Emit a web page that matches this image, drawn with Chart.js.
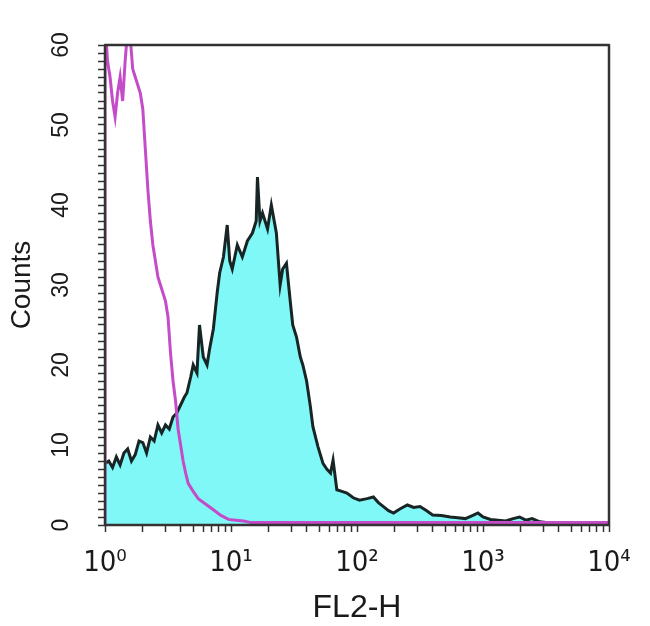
<!DOCTYPE html>
<html>
<head>
<meta charset="utf-8">
<script src="https://cdn.jsdelivr.net/npm/chart.js@4.4.1/dist/chart.umd.min.js"></script>
<style>
  html, body { margin: 0; padding: 0; background: #fff; }
  #wrap { width: 650px; height: 626px; position: relative; }
</style>
</head>
<body>
<div id="wrap"><canvas id="histo"></canvas></div>
<script>
/* --------------- Histogram data (x read as decades of FL2-H, y as counts) --------------- */
const magentaDecade = [
  0, 0, 0.02, 0.04, 0.06, 0.08, 0.10, 0.12, 0.14, 0.16,
  0.18, 0.20, 0.22, 0.24, 0.26, 0.28, 0.30, 0.32, 0.34, 0.36,
  0.38, 0.40, 0.42, 0.44, 0.46, 0.48, 0.50, 0.52, 0.54, 0.56,
  0.58, 0.60, 0.62, 0.64, 0.66, 0.70, 0.74, 0.80, 0.86, 0.92,
  0.98, 1.04, 1.10, 1.16, 1.4, 1.8, 2.2, 2.6, 3.0, 3.4,
  3.8, 4.0
];
const magentaCounts = [
  0, 63, 58, 56, 53, 51, 54, 56, 53, 58,
  62, 61, 57, 56, 55, 54, 52, 47, 42, 38,
  35, 33, 31, 30, 29, 28, 26, 21.5, 18, 15.5,
  12, 10, 8, 6.5, 5.2, 4.2, 3.3, 2.6, 1.9, 1.2,
  0.7, 0.6, 0.5, 0.3, 0.3, 0.3, 0.3, 0.3, 0.3, 0.3,
  0.3, 0.3
];

const cyanDecade = [
  0, 0.03, 0.06, 0.09, 0.12, 0.15, 0.18, 0.21, 0.24, 0.27,
  0.30, 0.33, 0.36, 0.39, 0.42, 0.45, 0.48, 0.51, 0.54, 0.57,
  0.60, 0.63, 0.65, 0.68, 0.70, 0.73, 0.75, 0.78, 0.81, 0.83,
  0.86, 0.89, 0.91, 0.94, 0.97, 0.99, 1.01, 1.05, 1.09, 1.13,
  1.17, 1.20, 1.21, 1.23, 1.25, 1.29, 1.32, 1.36, 1.39, 1.41,
  1.44, 1.47, 1.49, 1.52, 1.55, 1.57, 1.60, 1.63, 1.65, 1.69,
  1.73, 1.76, 1.79, 1.81, 1.84, 1.88, 1.92, 1.97, 2.02, 2.08,
  2.13, 2.17, 2.21, 2.25, 2.29, 2.34, 2.40, 2.45, 2.50, 2.55,
  2.60, 2.67, 2.74, 2.80, 2.86, 2.92, 2.96, 3.00, 3.06, 3.12,
  3.18, 3.24, 3.29, 3.34, 3.39, 3.45, 3.50, 3.60, 3.70, 3.80,
  3.90, 4.0
];
const cyanCounts = [
  7.7, 8, 7.2, 8.5, 7.5, 9, 9.5, 8, 8.8, 10.5,
  10.3, 9, 11, 10.5, 12.5, 11.5, 12.5, 12, 13.5, 14,
  15, 16, 16.5, 18.5, 20, 19, 25, 21, 20, 22,
  24.5, 29, 31.5, 33.5, 37.5, 33, 32, 35, 33.5, 35.5,
  36.5, 38, 43.5, 38, 39, 37, 40, 36.5, 30, 32,
  32.7, 28, 25, 23.5, 21, 20, 18, 14.8, 12.3, 9.8,
  7.7, 7, 6.5, 8.1, 4.4, 4.2, 4, 3.4, 3.1, 3.3,
  3.5, 2.8, 2.3, 1.8, 1.5, 2, 2.5, 2.2, 2.3, 1.8,
  1.25, 1.2, 1, 0.9, 0.8, 1.2, 1.5, 1, 0.7, 0.6,
  0.5, 0.8, 1, 0.6, 0.8, 0.4, 0.3, 0.2, 0.2, 0.2,
  0.2, 0.1
];

const decadeLabels = ["10\u2070", "10\u00B9", "10\u00B2", "10\u00B3", "10\u2074"];
const yMax = 60;

/* --------------- Helpers --------------- */
const toPoints = (dec, counts) => dec.map((d, i) => ({ x: Math.pow(10, d), y: counts[i] }));

// draws the closed frame round the plot area
const framePlugin = {
  id: "frame",
  afterDatasetsDraw(chart) {
    const { ctx, chartArea: a } = chart;
    ctx.save();
    ctx.strokeStyle = "#333";
    ctx.lineWidth = 2.5;
    ctx.lineJoin = "round";
    ctx.strokeRect(a.left, a.top, a.right - a.left, a.bottom - a.top);
    ctx.restore();
  },
};

/* --------------- Chart --------------- */
const histo = new Chart(document.getElementById("histo"), {
  type: "line",
  plugins: [framePlugin],
  data: {
    datasets: [
      {
        label: "control",
        data: toPoints(magentaDecade, magentaCounts),
        borderColor: "#C54CC8",
        borderWidth: 3,
        pointRadius: 0,
        tension: 0,
        fill: false,
        clip: 0,
      },
      {
        label: "stained",
        data: toPoints(cyanDecade, cyanCounts),
        borderColor: "#182525",
        backgroundColor: "#80F8F8",
        borderWidth: 3,
        pointRadius: 0,
        tension: 0,
        fill: "origin",
        clip: 0,
      },
    ],
  },
  options: {
    responsive: true,
    maintainAspectRatio: false,
    animation: false,
    layout: { padding: { top: 45, right: 41, left: 0, bottom: 0 } },
    plugins: {
      legend: { display: false },
      tooltip: { enabled: false },
    },
    scales: {
      x: {
        type: "logarithmic",
        min: 1,
        max: 10000,
        border: { display: false },
        grid: { drawOnChartArea: false, tickLength: 7, tickWidth: 1.5, tickColor: "#333" },
        afterBuildTicks: (scale) => {
          const t = [];
          for (let e = 0; e < 4; e++) {
            for (let s = 1; s < 10; s++) t.push({ value: s * Math.pow(10, e) });
          }
          t.push({ value: 10000 });
          scale.ticks = t;
        },
        ticks: {
          autoSkip: false,
          maxRotation: 0,
          padding: 14,
          color: "#1a1a1a",
          font: { family: "DejaVu Sans Condensed, DejaVu Sans", size: 29 },
          callback: (v) => {
            const e = Math.round(Math.log10(v));
            return Math.abs(Math.pow(10, e) - v) < 1e-6 ? decadeLabels[e] : "";
          },
        },
        title: {
          display: true,
          text: "FL2-H",
          color: "#1a1a1a",
          font: { family: "Liberation Sans, Arial", size: 32, lineHeight: 1 },
          padding: { top: 0, bottom: 2 },
        },
        afterFit: (scale) => { scale.height = 101; },
      },
      y: {
        min: 0,
        max: yMax,
        border: { display: false },
        grid: { drawOnChartArea: false, tickLength: 7, tickWidth: 1.5, tickColor: "#333" },
        ticks: {
          stepSize: 1,
          autoSkip: false,
          minRotation: 90,
          maxRotation: 90,
          crossAlign: "center",
          padding: 24,
          color: "#1a1a1a",
          font: { family: "Liberation Sans, Arial", size: 23 },
          callback: (v) => (v % 10 === 0 ? String(v) : ""),
        },
        title: {
          display: true,
          text: "Counts",
          color: "#1a1a1a",
          font: { family: "Liberation Sans, Arial", size: 28, lineHeight: 1 },
          padding: { top: 8, bottom: 0 },
        },
        afterFit: (scale) => { scale.width = 105; },
      },
    },
  },
});
</script>
</body>
</html>
